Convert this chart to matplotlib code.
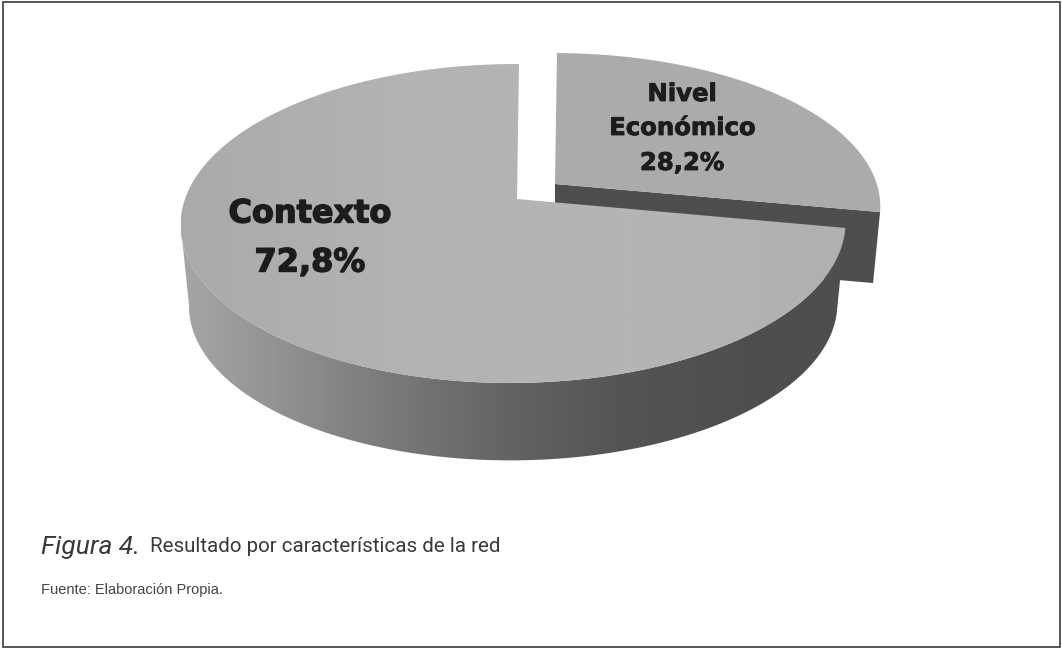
import numpy as np
import matplotlib
matplotlib.use("Agg")
import matplotlib.pyplot as plt
import matplotlib.patheffects as pe
from matplotlib.colors import LinearSegmentedColormap
from matplotlib.patches import Polygon, Rectangle

categories = ["Contexto", "Nivel\nEconómico"]
shares = [72.8, 28.2]
share_labels = ["72,8%", "28,2%"]
caption_lead = "Figura 4."
caption_body = "Resultado por características de la red"
source_note = "Fuente: Elaboración Propia."

W, H = 1062, 649
fig = plt.figure(figsize=(W / 100, H / 100), dpi=100, facecolor="white")
ax = fig.add_axes([0, 0, 1, 1])
ax.set_xlim(0, W)
ax.set_ylim(H, 0)
ax.axis("off")

# Perspective projection of a unit-circle pie onto the page
A, B, K, M, SHEAR = 328.5, 155.7, 0.1536, 0.0106, -0.0148


def project(t, x0, y0, sx=1.0, sy=1.0):
    t = np.asarray(t, dtype=float)
    den = 1 + K * np.sin(t) + M * np.cos(t)
    dy = -B * np.sin(t) / den
    dx = A * np.cos(t) / den + SHEAR * dy
    return np.column_stack([x0 + sx * dx, y0 + sy * dy])


def gradient_fill(poly_xy, colors, extent, zorder, horizontal=True):
    cmap = LinearSegmentedColormap.from_list("shade", colors)
    ramp = np.linspace(0, 1, 512)
    ramp = ramp[None, :] if horizontal else ramp[:, None]
    patch = Polygon(poly_xy, closed=True, transform=ax.transData,
                    facecolor="none", edgecolor="none")
    ax.add_patch(patch)
    im = ax.imshow(ramp, cmap=cmap, extent=extent, aspect="auto",
                   zorder=zorder, interpolation="bilinear")
    im.set_clip_path(patch)


total = sum(shares)
start = np.pi / 2
split = start + 2 * np.pi * shares[0] / total  # big slice runs counter-clockwise from the top
stop = start + 2 * np.pi

# Exploded slice
sx0, sy0, ssx, ssy = 555, 184, 0.99, 0.97
small_arc = project(np.linspace(split, stop, 160), sx0, sy0, ssx, ssy)
small_top = np.vstack([[sx0, sy0], small_arc])
corner = small_arc[0]
small_wall = [[sx0, sy0], corner, corner + [-7, 71], [sx0, sy0 + 71]]
ax.add_patch(Polygon(small_wall, closed=True, facecolor="#4e4e4c", edgecolor="none", zorder=2))
ax.add_patch(Polygon(small_top, closed=True, facecolor="#ababa9", edgecolor="none", zorder=3))

# Main slice: outer wall with a light-to-dark ramp, then the top face
mx0, my0 = 517, 199
bx0, by0, bs = 517, 281, 0.975
rim_start = np.pi + np.arcsin(K)
rim = np.linspace(rim_start, split, 300)
wall = np.vstack([project(rim, mx0, my0), project(rim, bx0, by0, bs, bs)[::-1]])
gradient_fill(wall,
              ["#a6a6a4", "#8f8f8d", "#777775", "#626260", "#545452", "#4f4f4d", "#4e4e4c"],
              (181, 850, 470, 200), zorder=4)
big_arc = project(np.linspace(start, split, 400), mx0, my0)
big_top = np.vstack([[mx0, my0], big_arc])
gradient_fill(big_top, ["#aaaaa8", "#b3b3b1", "#b5b5b3", "#b0b0ae"],
              (181, 850, 400, 60), zorder=5)

# Slice labels, thickened with a stroke of the same ink
ink = "#1c1c1a"
label_font = dict(family="DejaVu Sans", weight="bold", color=ink,
                  ha="center", va="center", zorder=6)
large_stroke = [pe.withStroke(linewidth=1.0, foreground=ink)]
small_stroke = [pe.withStroke(linewidth=0.6, foreground=ink)]
ax.text(310, 214, categories[0], fontsize=23, path_effects=large_stroke, **label_font)
ax.text(310, 263, share_labels[0], fontsize=23, path_effects=large_stroke, **label_font)
first, second = categories[1].split("\n")
ax.text(682, 94, first, fontsize=17.5, path_effects=small_stroke, **label_font)
ax.text(682, 128, second, fontsize=17.5, path_effects=small_stroke, **label_font)
ax.text(682, 163, share_labels[1], fontsize=17.5, path_effects=small_stroke, **label_font)

# Caption and source
ax.text(41, 547, caption_lead, family="Roboto", style="italic",
        fontsize=19, color="#3a3a3a", va="center", ha="left")
ax.text(150, 547, caption_body, family="Roboto",
        fontsize=14.8, color="#3a3a3a", va="center", ha="left")
ax.text(41, 590, source_note, family="Liberation Sans",
        fontsize=10.5, color="#444444", va="center", ha="left")

# Outer frame
ax.add_patch(Rectangle((2.5, 1.5), 1057, 645, facecolor="none",
                       edgecolor="#3a3a3a", linewidth=1.2, zorder=7))

ax.set_xlim(0, W)
ax.set_ylim(H, 0)
fig.savefig("out.png", dpi=100, facecolor="white")
